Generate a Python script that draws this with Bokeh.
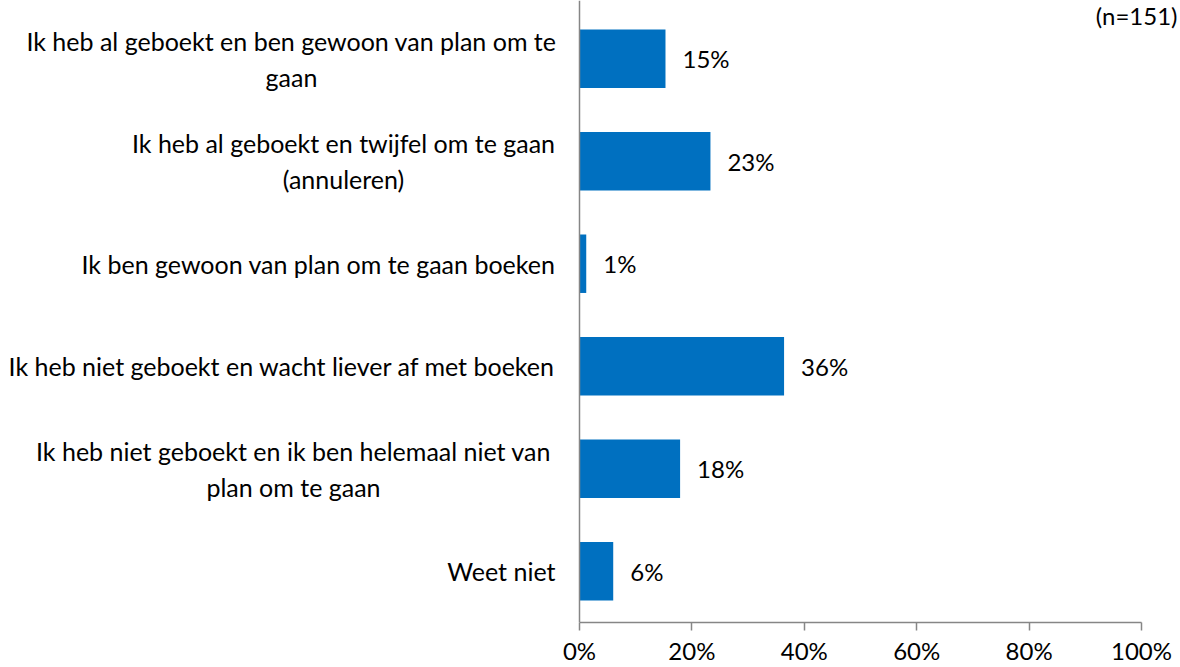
from bokeh.plotting import figure
from bokeh.models import Range1d, ColumnDataSource, FixedTicker, Span
from bokeh.core.properties import value
from bokeh.embed import file_html
from bokeh.resources import INLINE

categories = [
    "Ik heb al geboekt en ben gewoon van plan om te\ngaan",
    "Ik heb al geboekt en twijfel om te gaan\n(annuleren)",
    "Ik ben gewoon van plan om te gaan boeken",
    "Ik heb niet geboekt en wacht liever af met boeken",
    "Ik heb niet geboekt en ik ben helemaal niet van\nplan om te gaan",
    "Weet niet",
]
values = [15.3, 23.3, 1.2, 36.4, 17.9, 6.0]
x_ticks = [0, 20, 40, 60, 80, 100]
x_tick_labels = ["0%", "20%", "40%", "60%", "80%", "100%"]
note = "(n=151)"

FONT = "Lato"
FS_CAT = "25px"
FS = "24px"
BAR = "#0070C0"
AXIS = "#868686"

W, H = 1180, 667
AX_LEFT, AX_RIGHT = 579, 1141          # screen px of 0% and 100%
PPU = (AX_RIGHT - AX_LEFT) / 100.0     # px per percent
BAND = 102.5                           # px per category
TOP = 7                                # px of top of first band

n = len(categories)
positions = [i + 0.5 for i in range(n)]
labels = [f"{round(v)}%" for v in values]

x_lo = -AX_LEFT / PPU
x_hi = 100 + (W - AX_RIGHT) / PPU
y_top = -TOP / BAND

p = figure(width=W, height=H, output_backend="svg", toolbar_location=None,
           x_range=Range1d(x_lo, x_hi), y_range=Range1d(n, y_top),
           min_border_left=0, min_border_right=0, min_border_top=0,
           min_border_bottom=H - int(TOP + n * BAND))
p.outline_line_color = None
p.grid.visible = False
p.yaxis.visible = False

src = ColumnDataSource(dict(y=positions, v=values, lab=labels))
p.hbar(y="y", right="v", left=0, height=0.57, source=src, color=BAR, line_color=None)
p.text(x="v", y="y", text="lab", source=src, x_offset=17, text_align="left",
       text_baseline="middle", text_font=value(FONT), text_font_size=FS, text_color="black")

# vertical category axis line
p.add_layout(Span(location=0, dimension="height", line_color=AXIS, line_width=1.5))

# category labels: single-line ones right-aligned at the axis, wrapped ones centred
wrapped_centres = {0: 291, 1: 343, 4: 293}
cx, ca = [], []
for i, cat in enumerate(categories):
    if i in wrapped_centres:
        cx.append((wrapped_centres[i] - AX_LEFT) / PPU)
        ca.append("center")
    else:
        cx.append(-24 / PPU)
        ca.append("right")
csrc = ColumnDataSource(dict(x=cx, y=positions, t=categories, a=ca))
p.text(x="x", y="y", text="t", text_align="a", source=csrc, text_baseline="middle",
       text_font=value(FONT), text_font_size=FS_CAT, text_color="black", text_line_height=1.2)

# sample size note (top right)
p.text(x=[x_hi], y=[y_top], text=[note], x_offset=-3, text_align="right", text_baseline="top",
       text_font=value(FONT), text_font_size=FS, text_color="black")

xa = p.xaxis[0]
xa.bounds = (0, 100)
xa.ticker = FixedTicker(ticks=x_ticks)
xa.major_label_overrides = {t: l for t, l in zip(x_ticks, x_tick_labels)}
xa.axis_line_color = AXIS
xa.axis_line_width = 1.5
xa.major_tick_line_color = AXIS
xa.major_tick_line_width = 1.5
xa.major_tick_out = 8
xa.major_tick_in = 0
xa.minor_tick_line_color = None
xa.major_label_standoff = 5
xa.major_label_text_font = FONT
xa.major_label_text_font_size = FS
xa.major_label_text_color = "black"

open("out.html", "w").write(file_html(p, INLINE))
